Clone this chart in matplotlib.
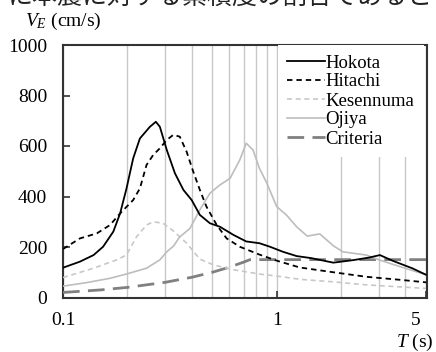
import matplotlib
matplotlib.use("Agg")
import matplotlib.pyplot as plt
from matplotlib.ticker import NullFormatter, LogLocator
import matplotlib.transforms as mtransforms

plt.rcParams['font.family'] = ['Liberation Serif', 'DejaVu Serif']
plt.rcParams['mathtext.fontset'] = 'custom'
plt.rcParams['mathtext.rm'] = 'Liberation Serif'
plt.rcParams['mathtext.it'] = 'Liberation Serif:italic'

# ---- data ----
hokota_T = [0.1, 0.12, 0.139, 0.154, 0.172, 0.185, 0.198, 0.213, 0.229, 0.255, 0.272, 0.284,
            0.306, 0.334, 0.366, 0.40, 0.437, 0.487, 0.543, 0.627, 0.72, 0.83, 0.93, 1.07,
            1.24, 1.45, 1.84, 2.28, 2.7, 3.04, 3.5, 4.3, 5.0]
hokota_V = [118, 142, 168, 201, 261, 333, 430, 551, 630, 676, 696, 676,
            584, 492, 426, 386, 327, 294, 280, 248, 222, 215, 201, 181,
            164, 156, 138, 148, 158, 168, 145, 116, 90]

hitachi_T = [0.1, 0.12, 0.144, 0.166, 0.185, 0.213, 0.229, 0.246, 0.264, 0.284, 0.306, 0.328,
             0.352, 0.379, 0.407, 0.437, 0.469, 0.524, 0.583, 0.672, 0.83, 1.0, 1.28, 1.84,
             2.63, 3.78, 5.0]
hitachi_V = [192, 234, 254, 287, 333, 386, 432, 525, 564, 591, 624, 644,
             637, 577, 498, 426, 360, 287, 234, 201, 170, 146, 119, 100,
             82, 70, 60]

kesen_T = [0.1, 0.139, 0.178, 0.198, 0.221, 0.246, 0.264, 0.294, 0.328, 0.379, 0.437, 0.506,
           0.627, 0.83, 1.0, 1.285, 1.84, 2.63, 3.15, 5.0]
kesen_V = [79, 116, 149, 168, 241, 287, 300, 294, 264, 215, 152, 129,
           110, 93, 85, 72, 62, 50, 46, 36]

ojiya_T = [0.1, 0.129, 0.166, 0.198, 0.246, 0.284, 0.306, 0.33, 0.35, 0.393, 0.437, 0.487,
           0.543, 0.605, 0.672, 0.72, 0.775, 0.83, 0.9, 1.0, 1.11, 1.24, 1.39, 1.59, 1.84,
           2.04, 2.63, 3.04, 3.78, 5.0]
ojiya_V = [45, 59, 76, 93, 116, 149, 181, 205, 238, 274, 347, 413,
           446, 472, 545, 611, 584, 512, 452, 360, 327, 280, 243, 252, 205,
           181, 168, 148, 122, 90]

crit_T = [0.1, 0.15, 0.2, 0.3, 0.4, 0.5, 0.6, 0.7, 0.75, 5.0]
crit_V = [20, 30, 40, 60, 80, 100, 120, 140, 150, 150]

x_ticks = [0.1, 1, 5]
x_ticklabels = ['0.1', '1', '5']
y_ticks = [0, 200, 400, 600, 800, 1000]

# ---- figure ----
fig = plt.figure(figsize=(4.36, 3.52), dpi=100)
ax = fig.add_axes([63/436, 1 - 297.5/352, 364/436, 252.5/352])

ax.set_xscale('log')
ax.set_xlim(0.1, 5.05)
ax.set_ylim(0, 1000)

grid_color = '#c8c8c8'
ax.xaxis.set_minor_locator(LogLocator(base=10, subs=range(2, 10)))
ax.xaxis.set_minor_formatter(NullFormatter())
ax.grid(True, which='both', axis='x', color=grid_color, lw=1.0, zorder=0)
ax.grid(False, axis='y')

ax.plot(hokota_T, hokota_V, color='black', lw=1.3, label='Hokota', zorder=5)
ax.plot(hitachi_T, hitachi_V, color='black', lw=1.3, ls=(0, (3, 2.2)), label='Hitachi', zorder=5)
ax.plot(kesen_T, kesen_V, color='#c8c8c8', lw=1.2, ls=(0, (3, 2.2)), label='Kesennuma', zorder=4)
ax.plot(ojiya_T, ojiya_V, color='#bdbdbd', lw=1.2, label='Ojiya', zorder=4)
ax.plot(crit_T, crit_V, color='#808080', lw=2.0, ls=(0, (6, 3)), label='Criteria', zorder=3)

ax.set_xticks(x_ticks)
ax.set_xticklabels(x_ticklabels)
ax.set_yticks(y_ticks)
ax.tick_params(axis='both', which='major', direction='in', length=5, width=1.2,
               color='#333333', labelsize=14, labelcolor='black')
ax.tick_params(axis='x', which='major', pad=10.5)
ax.tick_params(axis='y', which='major', pad=11.5)
ax.tick_params(axis='x', which='minor', length=0)

# shift the "5" label slightly left like the reference
lbls = ax.get_xticklabels()
offset = mtransforms.ScaledTranslation(-10/100, 0, fig.dpi_scale_trans)
lbls[2].set_transform(lbls[2].get_transform() + offset)

for s in ax.spines.values():
    s.set_color('#333333')
    s.set_linewidth(1.5)

leg = ax.legend(loc='upper left', bbox_to_anchor=(0.59, 1.0), borderaxespad=0,
                frameon=True, fancybox=False, fontsize=13.5, handlelength=2.0,
                handletextpad=0.05, labelspacing=0.1, borderpad=0.5)
leg.get_frame().set_facecolor('white')
leg.get_frame().set_edgecolor('none')
leg.get_frame().set_alpha(1.0)
leg.set_zorder(10)

fig.text(25/436, 1 - 26/352, r'$V_E$ (cm/s)', fontsize=14, va='baseline', ha='left')
fig.text(396/436, 1 - 347/352, r'$T$ (s)', fontsize=14, va='baseline', ha='left')

# cut-off line of running text at the very top of the reference
fig.text(8/436, 1 - 4/352, 'に本震に対する累積度の割合であると', fontsize=18,
         family=['Noto Sans CJK JP', 'DejaVu Sans'], color='#222222',
         va='baseline', ha='left')

fig.savefig('out.png', dpi=100)
